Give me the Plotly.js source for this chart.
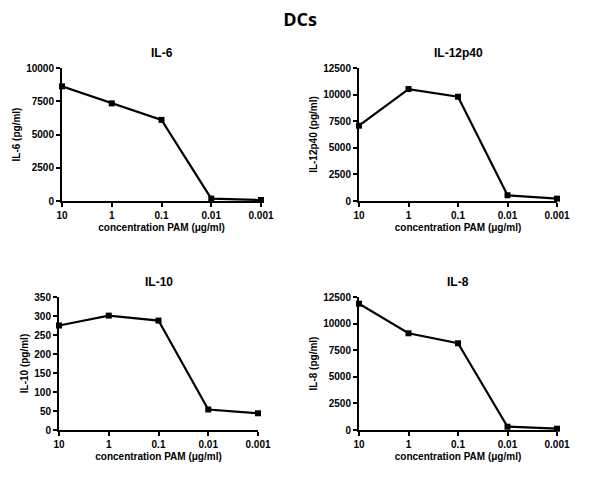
<!DOCTYPE html>
<html>
<head>
<meta charset="utf-8">
<script src="https://cdn.plot.ly/plotly-3.0.1.min.js"></script>
<style>html,body{margin:0;padding:0;background:#fff;}#chart{width:600px;height:480px;}</style>
</head>
<body>
<div id="chart"></div>
<script>
const concentrations = ["10", "1", "0.1", "0.01", "0.001"];
const il6 = [8620, 7340, 6100, 180, 75];
const il12p40 = [7080, 10520, 9800, 540, 220];
const il10 = [275, 301, 288, 54, 44];
const il8 = [11870, 9090, 8150, 310, 120];

const panelTitles = ["IL-6", "IL-12p40", "IL-10", "IL-8"];
const yTitles = ["IL-6 (pg/ml)", "IL-12p40 (pg/ml)", "IL-10 (pg/ml)", "IL-8 (pg/ml)"];
const yMax = [10000, 12500, 350, 12500];
const yStep = [2500, 2500, 50, 2500];
const series = [il6, il12p40, il10, il8];
const xTitle = "concentration PAM (\u03bcg/ml)";

const W = 600, H = 480;
// pixel boxes [x0, x1, yTop, yBottom]
const boxes = [[62, 261, 68, 201], [359, 557, 68, 201], [59, 258, 297, 430], [359, 557, 297, 430]];

const FAM = "'Liberation Sans', Arial, sans-serif";
const tickFont = {family: FAM, size: 10, color: "#000", weight: "bold"};
const titleFont = {family: FAM, size: 10, color: "#000", weight: "bold"};

const data = [];
const layout = {
  width: W, height: H,
  margin: {l: 0, r: 0, t: 0, b: 0},
  paper_bgcolor: "#fff", plot_bgcolor: "#fff",
  showlegend: false,
  title: {text: "DCs", x: 0.5, xanchor: "center", y: 1 - 20 / H, yanchor: "middle",
          font: {family: "'Open Sans', Lato, sans-serif", size: 18, color: "#000", weight: "bold"}},
  annotations: []
};

series.forEach((vals, i) => {
  const n = i + 1;
  const sfx = n === 1 ? "" : String(n);
  const b = boxes[i];
  data.push({
    x: concentrations, y: vals, type: "scatter", mode: "lines+markers",
    xaxis: "x" + sfx, yaxis: "y" + sfx,
    line: {color: "#000", width: 2.2},
    marker: {symbol: "square", size: 6, color: "#000"},
    cliponaxis: false
  });
  layout["xaxis" + sfx] = {
    domain: [b[0] / W, b[1] / W],
    anchor: "y" + sfx,
    type: "category", range: [0, 4],
    showline: true, linecolor: "#000", linewidth: 2,
    ticks: "outside", ticklen: 4, tickwidth: 2, tickcolor: "#000",
    showgrid: false, zeroline: false,
    tickfont: tickFont,
    title: {text: xTitle, font: titleFont, standoff: 4},
    fixedrange: true
  };
  layout["yaxis" + sfx] = {
    domain: [1 - b[3] / H, 1 - b[2] / H],
    anchor: "x" + sfx,
    range: [0, yMax[i]], dtick: yStep[i], tick0: 0, tickformat: "d",
    showline: true, linecolor: "#000", linewidth: 2,
    ticks: "outside", ticklen: 4, tickwidth: 2, tickcolor: "#000",
    showgrid: false, zeroline: false,
    tickfont: tickFont,
    title: {text: yTitles[i], font: titleFont, standoff: 4},
    fixedrange: true
  };
  layout.annotations.push({
    text: panelTitles[i], xref: "paper", yref: "paper",
    x: ((b[0] + b[1]) / 2) / W, y: 1 - (b[2] - 15) / H,
    xanchor: "center", yanchor: "middle", showarrow: false,
    font: {family: FAM, size: 12, color: "#000", weight: "bold"}
  });
});

Plotly.newPlot("chart", data, layout, {displayModeBar: false, staticPlot: true});
</script>
</body>
</html>
